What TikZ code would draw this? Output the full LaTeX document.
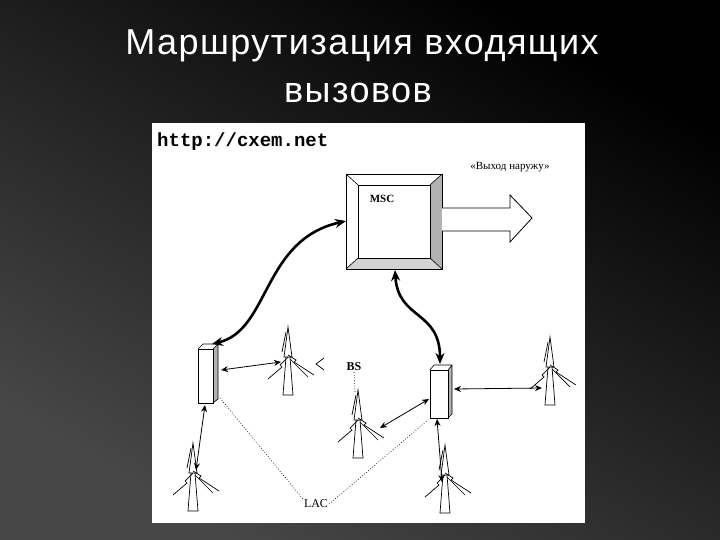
\documentclass[tikz,border=0pt]{standalone}
\usepackage{fontspec}
\setmainfont{Liberation Serif}
\newfontfamily\titlefont[LetterSpace=4]{Liberation Sans}
\newfontfamily\urlfont{Liberation Mono}
\usetikzlibrary{arrows.meta}
\tikzset{
  thickcon/.style={line width=2.6pt,{Stealth[length=11pt,width=9pt]}-{Stealth[length=11pt,width=9pt]}},
  thincon/.style={line width=0.8pt,{Stealth[length=7pt,width=6pt]}-{Stealth[length=7pt,width=6pt]}},
  dotcon/.style={line width=0.7pt,dotted},
  lbl/.style={font=\fontsize{12}{13}\selectfont,inner sep=1pt},
  tower/.pic={
    \draw[line width=0.7pt] (0,0) -- (-4,30) -- (4,30) -- cycle;
    \draw[line width=0.7pt] (-2,30) -- (-5,68) -- (5,68) -- (2,30);
    \draw[line width=0.7pt] (0,28) -- (8,33) -- (6,35) -- (26,48);
    \draw[line width=0.7pt] (0,30) -- (-8,38) -- (-6,40) -- (-20,52);
    \draw[line width=0.7pt] (-2,5) -- (-6,25);
    \draw[line width=0.7pt] (2,32) -- (20,50);
  }
}
\begin{document}
\begin{tikzpicture}[x=1pt,y=-1pt]
\shade[top color=black,bottom color=black!72,shading angle=-30] (0,0) rectangle (720,540);
\useasboundingbox (0,0) rectangle (720,540);
\node[text=white,font=\titlefont\fontsize{36}{40}\selectfont] (t1) at (362,46) {Маршрутизация входящих};
\node[text=white,font=\titlefont\fontsize{36}{40}\selectfont] (t2) at (358,93) {вызовов};
\fill[white] (152,123) rectangle (585,523);
\node[anchor=west,font=\urlfont\bfseries\fontsize{19}{20}\selectfont,inner sep=0] (url) at (157,142) {http://cxem.net};
\node[lbl,font=\fontsize{11}{12}\selectfont] (out) at (510,167) {«Выход наружу»};
% MSC box
\draw[line width=0.6pt,fill=white] (346,174) rectangle (442,269);
\fill[gray!60] (430,185) -- (442,174) -- (442,269) -- (430,258) -- cycle;
\fill[gray!35] (358,258) -- (430,258) -- (442,269) -- (346,269) -- cycle;
\draw[line width=0.8pt] (346,174) rectangle (442,269) (358,185) rectangle (430,258);
\draw[line width=0.6pt] (346,174) -- (358,185) (442,174) -- (430,185) (346,269) -- (358,258) (442,269) -- (430,258);
\node[lbl,font=\fontsize{11}{12}\selectfont\bfseries] (msc) at (382,199) {MSC};
\coordinate (mscL) at (346,221);
\coordinate (mscB) at (395,270);
% hollow arrow
\draw[line width=0.8pt,fill=white] (442,208) -- (510,208) -- (510,195) -- (532,218) -- (510,242) -- (510,231) -- (442,231);
% BSC left
\fill[gray!60] (213,349) -- (218,344) -- (218,399) -- (213,403) -- cycle;
\draw[line width=0.8pt] (198,349) rectangle (213,403);
\draw[line width=0.6pt] (198,349) -- (203,344) -- (218,344) -- (218,399) -- (213,403) (213,349) -- (218,344);
\coordinate (bscLt) at (212,344);
\coordinate (bscLr) at (221,370);
\coordinate (bscLb) at (205,405);
\coordinate (bscLd) at (220,398);
% BSC right
\fill[gray!60] (448,370) -- (452,365) -- (452,414) -- (448,418) -- cycle;
\draw[line width=0.8pt] (430,370) rectangle (448,418);
\draw[line width=0.6pt] (430,370) -- (434,365) -- (452,365) -- (452,414) -- (448,418) (448,370) -- (452,365);
\coordinate (bscRt) at (440,364);
\coordinate (bscRl) at (429,399);
\coordinate (bscRr) at (454,389);
\coordinate (bscRb) at (437,419);
\coordinate (bscRd) at (428,420);
% thick connectors
\draw[thickcon] (bscLt) .. controls (270,330) and (262,240) .. (mscL);
\draw[thickcon] (mscB) .. controls (398,320) and (440,310) .. (bscRt);
% towers
\pic at (288,327) {tower};
\pic at (358,390) {tower};
\pic at (550,337) {tower};
\pic at (193,443) {tower};
\pic at (445,445) {tower};
\coordinate (t1c) at (281,362);
\coordinate (t2c) at (380,428);
\coordinate (t3c) at (542,388);
\coordinate (t4c) at (196,470);
\coordinate (t5c) at (442,482);
\draw[thincon] (bscLr) -- (t1c);
\draw[thincon] (bscRl) -- (t2c);
\draw[thincon] (bscRr) -- (t3c);
\draw[thincon] (bscLb) -- (t4c);
\draw[thincon] (bscRb) -- (t5c);
\draw[line width=0.7pt] (324,358) -- (316,364) -- (324,370);
\node[lbl,font=\fontsize{12}{13}\selectfont\bfseries] (bs) at (354,367) {BS};
\node[lbl] (lac) at (316,504) {LAC};
\draw[dotcon] (bs.south) -- (355,392);
\draw[dotcon] (bscLd) -- (lac.north west);
\draw[dotcon] (lac.east) -- (bscRd);
\end{tikzpicture}
\end{document}
